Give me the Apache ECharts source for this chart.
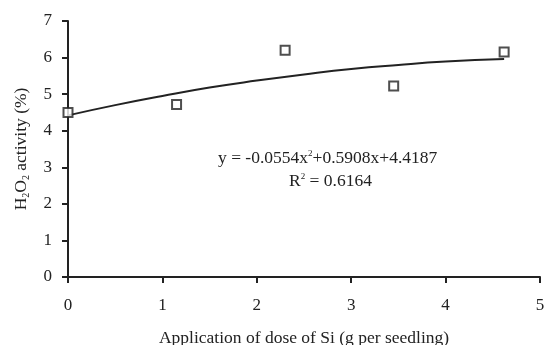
<!DOCTYPE html>
<html><head><meta charset="utf-8">
<script src="https://cdn.jsdelivr.net/npm/echarts@6/dist/echarts.min.js"></script>
<style>html,body{margin:0;padding:0;background:#fff}#c{width:544px;height:345px}</style>
</head><body><div id="c"></div>
<script>
const doseX = [0, 1.15, 2.3, 3.45, 4.62];
const activityY = [4.5, 4.72, 6.2, 5.22, 6.15];
const trendX = [0, 0.5, 1, 1.5, 2, 2.5, 3, 3.5, 4, 4.62];
const trendY = [4.42, 4.70, 4.95, 5.18, 5.37, 5.54, 5.69, 5.80, 5.89, 5.96];
const xTicks = [0, 1, 2, 3, 4, 5];
const yTicks = [0, 1, 2, 3, 4, 5, 6, 7];

const chart = echarts.init(document.getElementById('c'));
const font = 'Liberation Serif';
chart.setOption({
  animation: false,
  grid: {left: 68, right: 4, top: 21, bottom: 68, containLabel: false, outerBoundsMode: 'none'},
  xAxis: {
    type: 'value', min: 0, max: 5, interval: 1,
    axisLine: {lineStyle: {color: '#222', width: 2}},
    axisTick: {show: true, length: 6, lineStyle: {color: '#222', width: 2}},
    axisLabel: {color: '#222', fontFamily: font, fontSize: 17, margin: 20,
      formatter: v => xTicks.includes(v) ? String(v) : ''},
    splitLine: {show: false},
    name: 'Application of dose of Si (g per seedling)',
    nameLocation: 'middle', nameGap: 52,
    nameTextStyle: {color: '#222', fontFamily: font, fontSize: 17.5}
  },
  yAxis: {
    type: 'value', min: 0, max: 7, interval: 1,
    axisLine: {show: true, lineStyle: {color: '#222', width: 2}},
    axisTick: {show: true, length: 6, lineStyle: {color: '#222', width: 2}},
    axisLabel: {color: '#222', fontFamily: font, fontSize: 17, margin: 16,
      formatter: v => yTicks.includes(v) ? String(v) : ''},
    splitLine: {show: false},
    name: '{n|H}{s|2}{n|O}{s|2}{n| activity (%)}',
    nameLocation: 'middle', nameGap: 37, nameRotate: 90,
    nameTextStyle: {color: '#222', fontFamily: font, fontSize: 17.5,
      rich: {
        n: {fontFamily: font, fontSize: 17.5, color: '#222'},
        s: {fontFamily: font, fontSize: 10, color: '#222', padding: [9, 0, 0, 0]}
      }}
  },
  series: [
    {
      type: 'line', data: trendX.map((x, i) => [x, trendY[i]]),
      smooth: true, showSymbol: false,
      lineStyle: {color: '#222', width: 2}, z: 2
    },
    {
      type: 'scatter', data: doseX.map((x, i) => [x, activityY[i]]),
      symbol: 'rect', symbolSize: 9,
      itemStyle: {color: '#fff', borderColor: '#222', borderWidth: 2}, z: 3
    }
  ],
  graphic: [
    {
      type: 'text', left: 218, top: 149,
      style: {
        text: '{n|y = -0.0554x}{p|2}{n|+0.5908x+4.4187}',
        rich: {
          n: {fontFamily: font, fontSize: 17.5, fill: '#222'},
          p: {fontFamily: font, fontSize: 9, fill: '#222', padding: [0, 0, 10, 0]}
        }
      }
    },
    {
      type: 'text', left: 289, top: 172,
      style: {
        text: '{n|R}{p|2}{n| = 0.6164}',
        rich: {
          n: {fontFamily: font, fontSize: 17.5, fill: '#222'},
          p: {fontFamily: font, fontSize: 9, fill: '#222', padding: [0, 0, 10, 0]}
        }
      }
    }
  ]
});
</script>
</body></html>
